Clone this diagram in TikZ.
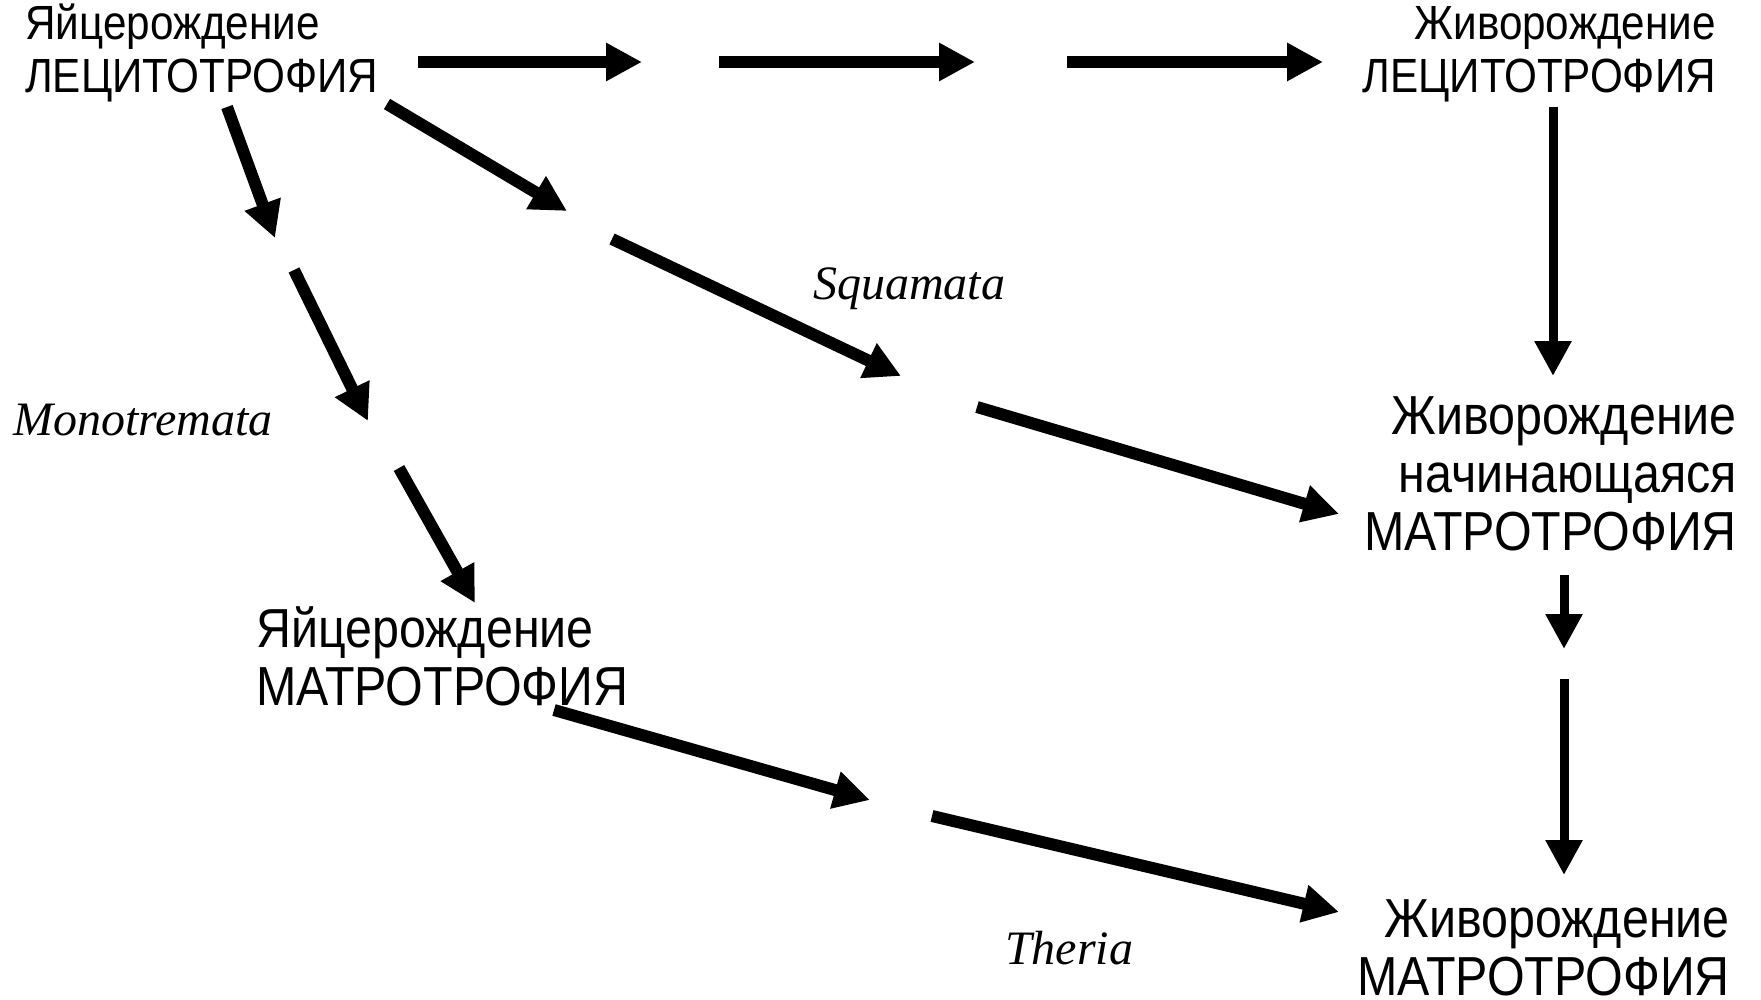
\documentclass[tikz,border=0pt]{standalone}
\usepackage{fontspec}
\setmainfont{Liberation Sans}
\newfontfamily\lab[FakeStretch=0.88]{Liberation Sans}
\newfontfamily\latn{Liberation Serif}
\usetikzlibrary{arrows.meta}
\begin{document}
\begin{tikzpicture}[x=1pt,y=-1pt,
  thickarrow/.style={line width=12pt,-{Triangle[length=36pt,width=36pt]}},
  thinarrow/.style={line width=9pt,-{Triangle[length=35pt,width=35pt]}},
  smalllab/.style={font=\lab\fontsize{48}{53}\selectfont,inner sep=0pt},
  biglab/.style={font=\lab\fontsize{55}{58}\selectfont,inner sep=0pt},
  taxon/.style={font=\latn\itshape\fontsize{48}{54}\selectfont,inner sep=0pt}]
\path[use as bounding box] (0,0) rectangle (1761,1000);
% labels (base anchor = baseline of last line)
\node[smalllab,anchor=base west,align=left] (ovilec) at (25,93) {Яйцерождение\\ЛЕЦИТОТРОФИЯ};
\node[smalllab,anchor=base east,align=right] (vivlec) at (1716,93) {Живорождение\\ЛЕЦИТОТРОФИЯ};
\node[biglab,anchor=base east,align=right] (vivbeg) at (1737,550) {Живорождение\\начинающаяся\hspace*{-6pt}\\МАТРОТРОФИЯ};
\node[biglab,anchor=base east,align=right] (vivmat) at (1730,995) {Живорождение\\МАТРОТРОФИЯ};
\node[biglab,anchor=base west,align=left] (ovimat) at (256,705) {Яйцерождение\\МАТРОТРОФИЯ};
\node[taxon,anchor=base west] (squam) at (813,299) {Squamata};
\node[taxon,anchor=base west] (monot) at (13,435) {Monotremata};
\node[taxon,anchor=base west] (ther) at (1005,964) {Theria};
% connector end points
\coordinate (t1s) at (418,62);  \coordinate (t1e) at (642,62);
\coordinate (t2s) at (719,62);  \coordinate (t2e) at (975,62);
\coordinate (t3s) at (1067,62); \coordinate (t3e) at (1323,62);
\coordinate (as) at (227,107);  \coordinate (ae) at (275,238);
\coordinate (bs) at (294,270);  \coordinate (be) at (368,421);
\coordinate (cs) at (399,468);  \coordinate (ce) at (475,603);
\coordinate (ds) at (387,104);  \coordinate (de) at (567,211);
\coordinate (es) at (612,239);  \coordinate (ee) at (901,376);
\coordinate (fs) at (977,407);  \coordinate (fe) at (1339,514);
\coordinate (gs) at (554,710);  \coordinate (ge) at (870,800);
\coordinate (hs) at (932,816);  \coordinate (he) at (1339,912);
\coordinate (v1s) at (1553,107); \coordinate (v1e) at (1553,376);
\coordinate (v2s) at (1564,575); \coordinate (v2e) at (1564,649);
\coordinate (v3s) at (1564,679); \coordinate (v3e) at (1564,875);
% connectors
\draw[thickarrow] (t1s) -- (t1e);
\draw[thickarrow] (t2s) -- (t2e);
\draw[thickarrow] (t3s) -- (t3e);
\draw[thickarrow] (as) -- (ae);
\draw[thickarrow] (bs) -- (be);
\draw[thickarrow] (cs) -- (ce);
\draw[thickarrow] (ds) -- (de);
\draw[thickarrow] (es) -- (ee);
\draw[thickarrow] (fs) -- (fe);
\draw[thickarrow] (gs) -- (ge);
\draw[thickarrow] (hs) -- (he);
\draw[thinarrow] (v1s) -- (v1e);
\draw[thinarrow] (v2s) -- (v2e);
\draw[thinarrow] (v3s) -- (v3e);
\end{tikzpicture}
\end{document}
